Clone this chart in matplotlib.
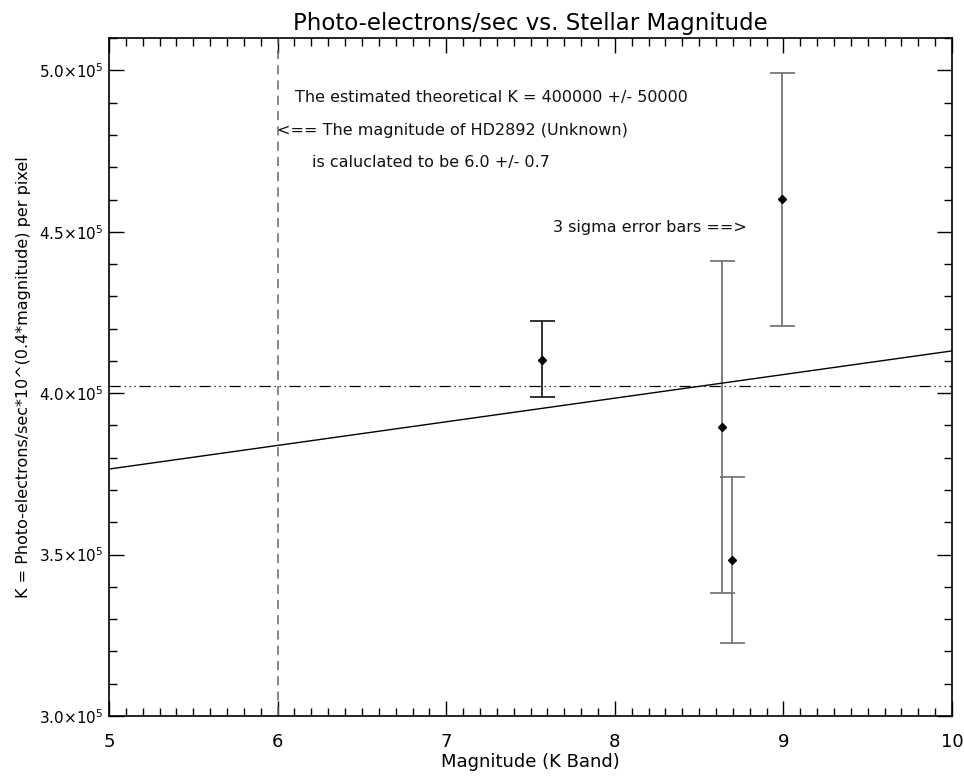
import numpy as np
import matplotlib
matplotlib.use('Agg')
import matplotlib.pyplot as plt
from matplotlib.ticker import MultipleLocator, FuncFormatter

# measured stars: magnitude, K value and 3 sigma limits
mag = [7.568, 8.636, 8.693, 8.99]
k_val = [4.103e5, 3.894e5, 3.483e5, 4.601e5]
k_hi = [4.224e5, 4.410e5, 3.739e5, 4.991e5]
k_lo = [3.987e5, 3.380e5, 3.227e5, 4.208e5]
bar_col = ['#222222', '#777777', '#777777', '#777777']

# linear fit end points
fit_x = [5.0, 10.0]
fit_y = [3.765e5, 4.131e5]

k_theory = 4.021e5
mag_unknown = 6.0

fig = plt.figure(figsize=(9.64, 7.8), dpi=100)
ax = fig.add_axes([0.1131, 0.0821, 0.8745, 0.8690])

for x, y, hi, lo, c in zip(mag, k_val, k_hi, k_lo, bar_col):
    ax.errorbar([x], [y], yerr=[[y - lo], [hi - y]], fmt='none', ecolor=c,
                elinewidth=1.3, capsize=9, capthick=1.3)
ax.plot(mag, k_val, linestyle='none', marker='D', ms=4.5, color='black')

ax.plot(fit_x, fit_y, color='black', lw=1.0)
ax.axhline(k_theory, color='black', lw=0.9, dashes=[9, 3, 1, 3, 1, 3, 1, 3])
ax.axvline(mag_unknown, color='#666666', lw=1.1, dashes=[6, 4])

txt = dict(fontsize=11.5, color='#111111', va='center')
ax.text(0.221, 0.913, 'The estimated theoretical K = 400000 +/- 50000',
        transform=ax.transAxes, ha='left', **txt)
ax.text(0.199, 0.864, '<== The magnitude of HD2892 (Unknown)',
        transform=ax.transAxes, ha='left', **txt)
ax.text(0.241, 0.817, 'is caluclated to be 6.0 +/- 0.7',
        transform=ax.transAxes, ha='left', **txt)
ax.text(0.527, 0.721, '3 sigma error bars ==>',
        transform=ax.transAxes, ha='left', **txt)

ax.set_xlim(5, 10)
ax.set_ylim(3.0e5, 5.1e5)
ax.xaxis.set_major_locator(MultipleLocator(1))
ax.xaxis.set_minor_locator(MultipleLocator(0.1))
ax.yaxis.set_major_locator(MultipleLocator(0.5e5))
ax.yaxis.set_minor_locator(MultipleLocator(0.1e5))
ax.yaxis.set_major_formatter(FuncFormatter(
    lambda v, p: r'%.1f$\times$10$^{5}$' % (v / 1e5)))

ax.tick_params(which='both', direction='in', top=True, right=True,
               color='black', width=1.0)
ax.tick_params(which='major', length=11)
ax.tick_params(which='minor', length=5.5)
ax.tick_params(axis='x', labelsize=13, pad=12)
ax.tick_params(axis='y', labelsize=11, pad=4)
for s in ax.spines.values():
    s.set_linewidth(1.2)

ax.set_title('Photo-electrons/sec vs. Stellar Magnitude', fontsize=16.5, pad=6)
ax.set_xlabel('Magnitude (K Band)', fontsize=13, labelpad=2)
ax.set_ylabel('K = Photo-electrons/sec*10^(0.4*magnitude) per pixel',
              fontsize=11.5, labelpad=6)

fig.savefig('out.png', dpi=100)
